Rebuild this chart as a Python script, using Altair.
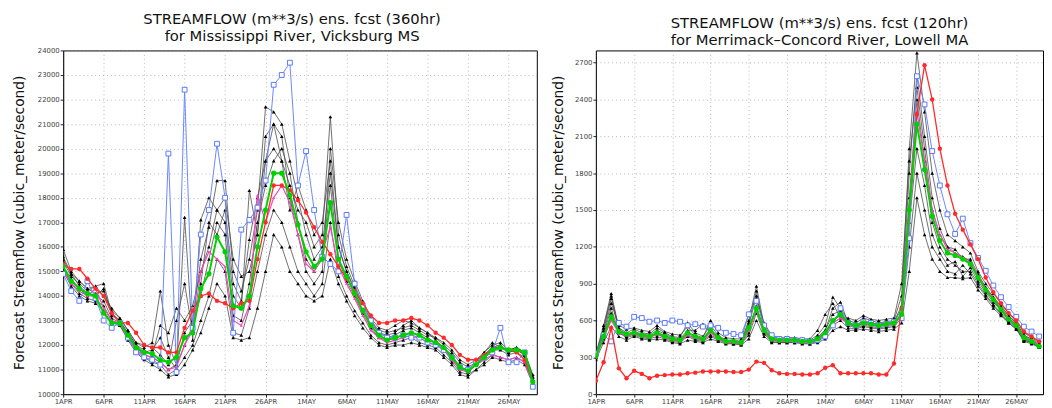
import altair as alt
import pandas as pd

DAYS = list(range(59))
X_TICKS = [0, 5, 10, 15, 20, 25, 30, 35, 40, 45, 50, 55]
X_LABELS = ["1APR", "6APR", "11APR", "16APR", "21APR", "26APR",
            "1MAY", "6MAY", "11MAY", "16MAY", "21MAY", "26MAY"]

TITLE_L = ["STREAMFLOW (m**3/s) ens. fcst (360hr)", " for Mississippi River, Vicksburg MS"]
TITLE_R = ["STREAMFLOW (m**3/s) ens. fcst (120hr)", " for Merrimack\u2013Concord River, Lowell MA"]
Y_TITLE = "Forecast Streamflow (cubic_meter/second)"
Y_TICKS_L = [10000, 11000, 12000, 13000, 14000, 15000, 16000, 17000, 18000, 19000,
             20000, 21000, 22000, 23000, 24000]
Y_TICKS_R = [0, 300, 600, 900, 1200, 1500, 1800, 2100, 2400, 2700]

# ---------------- Mississippi River, Vicksburg MS ----------------
GREEN_L = [15200, 14600, 14300, 14100, 14000, 13300, 12900, 12900, 12400, 11900,
           11700, 11650, 11400, 11300, 11500, 12300, 12500, 14300, 14900, 16400,
           15800, 13600, 13500, 14000, 16000, 17500, 19000, 19000, 18100, 16900,
           15800, 15200, 15500, 17800, 15500, 14800, 14100, 13400, 12800, 12400,
           12200, 12300, 12400, 12500, 12400, 12200, 12100, 11900, 11500, 11100,
           10950, 11200, 11500, 11800, 11900, 11800, 11800, 11700, 10500]
RED_L = [15300, 15100, 15100, 14700, 14300, 14000, 13300, 12900, 12900, 12500,
         12000, 11900, 11900, 11700, 11700, 12700, 13400, 14000, 14100, 13800,
         13700, 13500, 13700, 13800, 15500, 17000, 18500, 18500, 18300, 17900,
         17400, 16800, 16200, 15700, 15200, 14700, 14200, 13700, 13200, 12900,
         12900, 13000, 13000, 13100, 13000, 12800, 12500, 12300, 12000, 11600,
         11400, 11400, 11600, 11800, 11900, 11800, 11700, 11400, 10500]
BLUE_L = [14900, 14200, 13800, 14600, 13900, 13000, 12700, 12900, 12300, 11700,
          11500, 11400, 11200, 19800, 10900, 22400, 12700, 16500, 17500, 20200,
          18000, 12500, 16700, 17100, 17600, 18700, 22600, 23000, 23500, 18500,
          19900, 17500, 15600, 15300, 15000, 17300, 14500, 13600, 13000, 12500,
          12300, 12300, 12400, 12300, 12300, 12100, 12000, 11800, 11500, 11100,
          11000, 11300, 11500, 11700, 12700, 11300, 11300, 11700, 10300]
MAGENTA_L = [15000, 14500, 14200, 14000, 14300, 13500, 13000, 12900, 12300, 11800,
             11600, 11500, 11300, 11000, 11100, 12000, 12600, 15000, 15800, 15500,
             15200, 13000, 12800, 13600, 18100, 17000, 18000, 18500, 17800, 16500,
             15300, 15000, 15800, 16800, 15200, 14500, 13900, 13200, 12600, 12300,
             12100, 12200, 12300, 12400, 12300, 12100, 12000, 11800, 11400, 11000,
             10900, 11200, 11400, 11600, 11500, 11400, 11500, 11300, 10500]
BLACK_L = [
    [15900, 15000, 14600, 14300, 14100, 14200, 13400, 13100, 12600, 12100,
     11900, 12100, 14200, 12000, 11200, 12500, 13000, 15500, 16800, 18700,
     18700, 15000, 14200, 15500, 17500, 21700, 21500, 21000, 19500, 18000,
     16500, 15500, 16000, 19000, 16000, 15000, 14300, 13600, 13000, 12600,
     12500, 12600, 12700, 12800, 12600, 12400, 12300, 12000, 11700, 11300,
     11100, 11300, 11700, 12000, 12100, 11800, 11900, 11700, 10800],
    [15400, 14800, 14500, 14200, 14400, 14500, 13300, 13000, 12500, 12000,
     11700, 11800, 12300, 11500, 11000, 17200, 12200, 17100, 18000, 17500,
     17000, 14000, 13500, 18300, 16500, 19500, 20000, 19500, 18500, 17500,
     17000, 16000, 16500, 21300, 16500, 15200, 14400, 13700, 13000, 12500,
     12400, 12500, 12800, 13000, 12700, 12500, 12200, 11900, 11600, 11100,
     10900, 11200, 11600, 11900, 12000, 11700, 11800, 11600, 10600],
    [15000, 14400, 14000, 13800, 13700, 13400, 12900, 12800, 12200, 11700,
     11400, 11200, 11000, 10700, 10800, 11200, 11800, 12500, 13500, 14500,
     14000, 12300, 12200, 12300, 13500, 15000, 16500, 16000, 15000, 14500,
     14000, 13800, 14000, 15500, 14500, 13800, 13200, 12700, 12300, 12000,
     11900, 12000, 12000, 12100, 12000, 11900, 11800, 11500, 11200, 10800,
     10700, 11000, 11200, 11500, 11400, 11300, 11400, 11200, 10400],
    [15600, 14900, 14400, 14100, 14000, 14300, 13200, 13000, 12400, 11900,
     11600, 11500, 11300, 11000, 11200, 12000, 12800, 14000, 15500, 17000,
     16500, 13200, 13000, 14500, 17000, 18500, 19500, 20000, 19000, 17000,
     15500, 15000, 15500, 18500, 15500, 14600, 14000, 13300, 12700, 12300,
     12200, 12300, 12400, 12500, 12400, 12200, 12100, 11900, 11500, 11100,
     10900, 11200, 11500, 11800, 11800, 11600, 11700, 11500, 10600],
    [15200, 14700, 14300, 14000, 14000, 13800, 13100, 12900, 12500, 12000,
     11800, 11600, 12800, 12500, 13500, 13000, 13600, 15000, 16000, 17500,
     18000, 15500, 14800, 15000, 16500, 20500, 21000, 20500, 18000, 16500,
     15000, 14500, 15000, 20000, 17000, 15500, 14600, 13800, 13100, 12700,
     12600, 12800, 13000, 12900, 12700, 12500, 12300, 12100, 11800, 11400,
     11200, 11400, 11700, 12100, 11900, 11800, 11900, 11700, 10700],
    [15100, 14500, 14100, 13900, 13800, 13600, 13000, 12800, 12300, 11800,
     11500, 11300, 11200, 10800, 11000, 11500, 12000, 13000, 14000, 15500,
     15000, 12500, 12400, 13500, 15000, 16500, 17500, 17000, 16000, 15000,
     14500, 14000, 14500, 17000, 14800, 14000, 13400, 12900, 12400, 12100,
     12000, 12100, 12200, 12300, 12100, 12000, 11900, 11600, 11300, 10900,
     10800, 11000, 11300, 11600, 11500, 11400, 11500, 11300, 10500],
    [15500, 14900, 14600, 14300, 14400, 14000, 13500, 13100, 12600, 12100,
     12000, 11900, 11600, 11200, 13000, 14500, 12500, 14500, 17000, 16500,
     17500, 14500, 13800, 16300, 18000, 19500, 21000, 19500, 17500, 18500,
     17500, 16500, 17000, 19500, 16000, 15000, 14200, 13500, 12900, 12500,
     12300, 12400, 12600, 12700, 12500, 12300, 12100, 11800, 11400, 11000,
     11000, 11300, 11600, 11900, 11900, 11700, 11800, 11600, 10700],
]

# ---------------- Merrimack-Concord River, Lowell MA ----------------
GREEN_R = [310, 470, 630, 510, 490, 500, 480, 470, 500, 470,
           450, 440, 500, 470, 450, 520, 460, 430, 430, 420,
           540, 700, 520, 450, 440, 440, 440, 430, 430, 450,
           500, 600, 650, 580, 560, 580, 570, 560, 570, 580,
           650, 1500, 2200, 1830, 1450, 1250, 1150, 1130, 1100, 1060,
           950, 850, 770, 690, 610, 560, 460, 430, 390]
RED_R = [110, 260, 540, 210, 130, 190, 165, 130, 150, 155,
         160, 160, 170, 175, 185, 185, 185, 185, 180, 180,
         200, 265, 255, 195, 170, 165, 165, 160, 160, 170,
         215, 235, 170, 170, 170, 170, 170, 160, 160, 250,
         700, 1500, 2280, 2680, 2400, 2000, 1700, 1470, 1340, 1220,
         1100, 950, 830, 740, 660, 600, 510, 470, 430]
BLUE_R = [330, 480, 430, 580, 550, 630, 620, 590, 600, 580,
          600, 590, 560, 570, 550, 560, 540, 500, 490, 480,
          650, 760, 560, 480, 450, 450, 440, 440, 430, 440,
          470, 560, 700, 580, 560, 590, 580, 560, 570, 590,
          620, 1270, 2590, 2360, 1980, 1700, 1465, 1305, 1430, 1230,
          1110, 1005, 885, 790, 710, 630, 550, 510, 470]
MAGENTA_R = [300, 460, 600, 500, 480, 490, 470, 460, 490, 460,
             440, 430, 480, 460, 440, 500, 450, 420, 420, 410,
             520, 680, 510, 440, 430, 430, 430, 420, 420, 440,
             490, 580, 620, 570, 550, 570, 560, 550, 560, 570,
             640, 1400, 2300, 1900, 1500, 1300, 1180, 1150, 1110, 1070,
             960, 860, 780, 700, 620, 570, 470, 440, 400]
BLACK_R = [
    [330, 560, 820, 540, 500, 530, 500, 490, 540, 500,
     470, 460, 580, 500, 470, 560, 480, 440, 440, 430,
     600, 880, 560, 470, 450, 450, 450, 440, 440, 480,
     560, 790, 700, 600, 580, 620, 600, 580, 590, 600,
     800, 2000, 2780, 2300, 1800, 1500, 1300, 1250, 1200, 1150,
     1000, 900, 820, 740, 660, 600, 500, 460, 420],
    [300, 520, 780, 520, 480, 510, 490, 480, 520, 490,
     460, 450, 520, 520, 570, 500, 470, 430, 430, 420,
     560, 800, 540, 460, 440, 440, 440, 430, 430, 460,
     520, 700, 750, 580, 560, 600, 580, 570, 580, 590,
     720, 1800, 2600, 2100, 1600, 1350, 1200, 1180, 1100, 1100,
     980, 870, 790, 710, 640, 580, 480, 450, 410],
    [280, 420, 550, 470, 440, 470, 450, 440, 450, 440,
     420, 410, 440, 430, 420, 450, 430, 410, 410, 400,
     450, 600, 470, 420, 420, 420, 420, 410, 410, 420,
     450, 520, 550, 520, 520, 530, 520, 510, 520, 530,
     580, 1000, 1600, 1300, 1100, 1000, 950, 950, 940, 950,
     850, 780, 700, 640, 580, 530, 430, 410, 380],
    [310, 480, 700, 500, 470, 490, 470, 460, 490, 460,
     440, 430, 480, 450, 440, 480, 450, 420, 420, 410,
     500, 720, 500, 440, 430, 430, 430, 420, 420, 440,
     480, 600, 640, 560, 540, 560, 550, 540, 550, 560,
     640, 1400, 2000, 1700, 1300, 1150, 1050, 1080, 960, 1030,
     920, 830, 750, 680, 600, 550, 450, 430, 390],
    [290, 500, 740, 560, 530, 540, 520, 510, 560, 510,
     490, 480, 550, 480, 460, 600, 500, 460, 450, 450,
     650, 780, 580, 480, 460, 460, 460, 450, 450, 520,
     650, 740, 620, 620, 600, 640, 610, 600, 610, 620,
     900, 1900, 2500, 2000, 1500, 1300, 1200, 1150, 1120, 1080,
     960, 870, 790, 720, 640, 580, 480, 440, 400],
    [320, 540, 800, 530, 490, 500, 480, 470, 500, 480,
     450, 440, 500, 470, 450, 530, 470, 430, 430, 420,
     580, 840, 520, 450, 440, 440, 440, 430, 430, 460,
     520, 650, 680, 570, 560, 590, 570, 560, 570, 580,
     700, 1600, 2400, 1900, 1400, 1200, 1100, 1050, 1000, 1000,
     900, 810, 730, 660, 590, 540, 440, 420, 390],
    [300, 450, 660, 500, 460, 480, 460, 450, 470, 450,
     430, 420, 470, 440, 430, 470, 440, 420, 410, 410,
     480, 660, 490, 430, 420, 420, 420, 420, 410, 430,
     470, 560, 600, 540, 530, 550, 540, 530, 540, 550,
     620, 1200, 1800, 1500, 1200, 1100, 1000, 980, 1050, 980,
     880, 800, 720, 650, 580, 530, 440, 420, 380],
]

FONT = "DejaVu Sans"
LABEL_EXPR = "[" + ",".join("'%s'" % s for s in X_LABELS) + "][round(datum.value/5)]"


def panel_df(blacks, blue, magenta, red, green):
    rows = []
    for i, mem in enumerate(blacks):
        for d, v in zip(DAYS, mem):
            rows.append({"day": d, "value": v, "member": "b%d" % i, "kind": "black"})
    for name, ser in (("blue", blue), ("magenta", magenta), ("red", red), ("green", green)):
        for d, v in zip(DAYS, ser):
            rows.append({"day": d, "value": v, "member": name, "kind": name})
    return pd.DataFrame(rows)


def make_panel(df, ydom, yticks, title, width, height, dx, title_pad):
    x = alt.X("day:Q",
              scale=alt.Scale(domain=[0, 58.5], nice=False, zero=False),
              axis=alt.Axis(values=X_TICKS, labelExpr=LABEL_EXPR, title=None,
                            grid=True, labelFlush=False))
    y = alt.Y("value:Q",
              scale=alt.Scale(domain=ydom, nice=False, zero=False),
              axis=alt.Axis(values=yticks, title=Y_TITLE, grid=True,
                            titlePadding=title_pad, format="d"))
    base = alt.Chart(df).encode(x=x, y=y)

    def sel(kind):
        return base.transform_filter(alt.datum.kind == kind)

    layers = [
        sel("black").mark_line(color="#4a4a4a", strokeWidth=0.8, clip=True).encode(detail="member:N"),
        sel("black").mark_point(shape="triangle-up", filled=True, color="black", size=14,
                                opacity=1, clip=True),
        sel("magenta").mark_line(color="#ff40c0", strokeWidth=1.2, clip=True),
        sel("magenta").mark_point(shape="triangle-up", filled=True, color="#ff40c0", size=10,
                                  opacity=1, clip=True),
        sel("blue").mark_line(color="#6a86ff", strokeWidth=1, clip=True),
        sel("blue").mark_point(shape="square", fill="white", stroke="#5878ff", strokeWidth=1,
                               size=24, opacity=1, fillOpacity=1, clip=True),
        sel("red").mark_line(color="#ff2a2a", strokeWidth=1.3, clip=True),
        sel("red").mark_point(shape="circle", filled=True, color="#ff2a2a", size=20,
                              opacity=1, clip=True),
        sel("green").mark_line(color="#00d000", strokeWidth=2, clip=True),
        sel("green").mark_point(shape="circle", filled=True, color="#00d000", size=28,
                                opacity=1, clip=True),
    ]
    return alt.layer(*layers).properties(
        width=width, height=height,
        title=alt.TitleParams(text=title, dx=dx),
    )


left = make_panel(panel_df(BLACK_L, BLUE_L, MAGENTA_L, RED_L, GREEN_L),
                  [10000, 24000], Y_TICKS_L, TITLE_L, 481, 349, -8, 11)
right = make_panel(panel_df(BLACK_R, BLUE_R, MAGENTA_R, RED_R, GREEN_R),
                   [0, 2800], Y_TICKS_R, TITLE_R, 454, 349, 0, 9)

chart = alt.hconcat(left, right, spacing=13).properties(
    padding={"left": 4, "top": 0, "right": 0, "bottom": 0}
).configure_view(
    stroke="black", strokeWidth=1
).configure_axis(
    labelFont=FONT, labelFontSize=7, labelColor="#444",
    titleFont=FONT, titleFontSize=14, titleFontWeight="normal", titleColor="#111",
    tickSize=3, tickColor="#222", domainColor="#222", labelPadding=1,
    gridColor="#9a9a9a", gridDash=[1, 3], gridWidth=0.7,
).configure_title(
    font=FONT, fontSize=15, fontWeight="normal", color="#111",
    anchor="middle", lineHeight=17, offset=3, baseline="top",
)

chart.save("out.html", embed_options={"renderer": "svg", "actions": False})
